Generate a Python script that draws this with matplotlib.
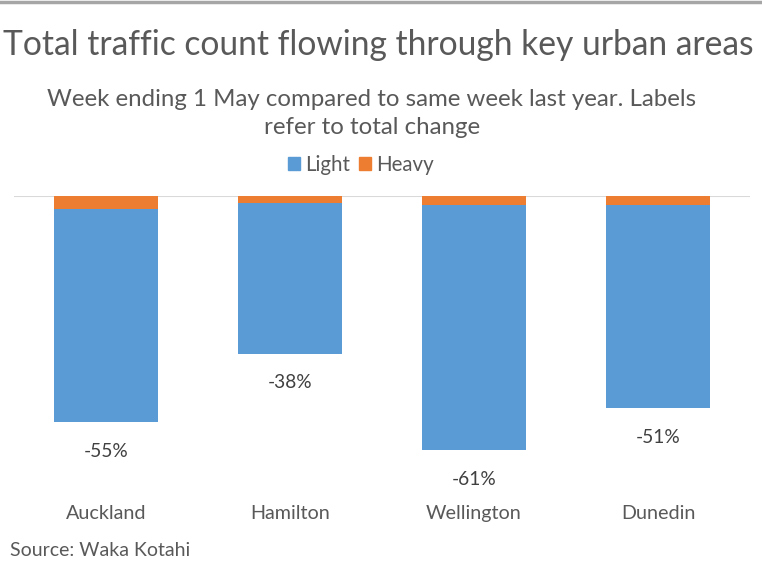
import matplotlib
matplotlib.use("Agg")
import matplotlib.pyplot as plt
from matplotlib.patches import Patch
import numpy as np

categories = ["Auckland", "Hamilton", "Wellington", "Dunedin"]
light = [-51.2, -36.3, -59.0, -48.6]
heavy = [-3.2, -1.7, -2.2, -2.4]
total_labels = ["-55%", "-38%", "-61%", "-51%"]

FONT = "Lato"
GREY = "#595959"
plt.rcParams["font.family"] = [FONT, "DejaVu Sans"]

fig = plt.figure(figsize=(7.62, 5.63), dpi=100)
ax = fig.add_axes([14/762, (563-487)/563, (750-14)/762, (487-195.5)/563])

x = np.arange(len(categories))
w = 0.57
ax.bar(x, heavy, width=w, color="#ED7D31", zorder=3)
ax.bar(x, light, width=w, bottom=heavy, color="#5B9BD5", zorder=3)

for xi, l, h, lab in zip(x, light, heavy, total_labels):
    ax.annotate(lab, (xi, l + h), xytext=(0, -21), textcoords="offset points",
                ha="center", va="center", fontsize=13.8, color="#404040")

ax.set_xlim(-0.5, 3.5)
ax.set_ylim(-70, 0)
ax.axhline(0, color="#D9D9D9", lw=1.5, zorder=2)
for s in ax.spines.values():
    s.set_visible(False)
ax.set_yticks([])
ax.set_xticks(x)
ax.set_xticklabels(categories, fontsize=14.2, color=GREY)
ax.tick_params(axis="x", length=0, pad=13)

# top border
fig.add_artist(plt.Line2D([0, 1], [1 - 1.5/563, 1 - 1.5/563], color="#A6A6A6", lw=2.5,
                          transform=fig.transFigure))

fig.text(378/762, 1 - 45/563, "Total traffic count flowing through key urban areas",
         ha="center", va="center", fontsize=24.2, color=GREY)
fig.text(372/762, 1 - 100/563, "Week ending 1 May compared to same week last year. Labels",
         ha="center", va="center", fontsize=17.3, color=GREY)
fig.text(372/762, 1 - 128/563, "refer to total change",
         ha="center", va="center", fontsize=17.3, color=GREY)

handles = [Patch(color="#5B9BD5", label="Light"), Patch(color="#ED7D31", label="Heavy")]
fig.legend(handles=handles, loc="center", bbox_to_anchor=(361/762, 1 - 165/563), ncol=2,
           frameon=False, fontsize=14.8, handlelength=0.6, handleheight=0.6,
           handletextpad=0.25, columnspacing=0.4, labelcolor=GREY)

fig.text(10/762, 1 - 550/563, "Source: Waka Kotahi", ha="left", va="center",
         fontsize=14, color=GREY)

fig.savefig("out.png", dpi=100)
